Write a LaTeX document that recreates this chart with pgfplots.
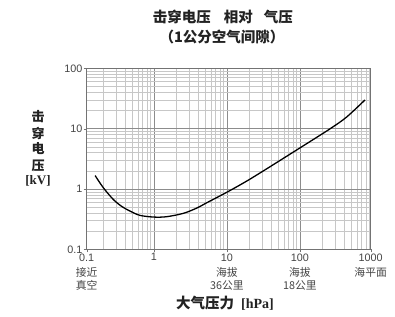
\documentclass[border=0pt]{standalone}
\usepackage{pgfplots}
\pgfplotsset{compat=1.18}
\usepackage{fontspec}
\setmainfont{Liberation Sans}
\newfontfamily\cjk{Noto Sans CJK SC}
\newfontfamily\serifb{Liberation Serif}
\definecolor{lbl}{HTML}{444444}
\definecolor{ttl}{HTML}{222222}
\begin{document}
\begin{tikzpicture}[x=1bp,y=1bp]
\useasboundingbox (0,0) rectangle (395,317);
\begin{axis}[
  at={(86.7bp,67.7bp)}, anchor=south west,
  scale only axis, width=284bp, height=181bp,
  xmode=log, ymode=log,
  xmin=0.1197, xmax=930, ymin=0.1, ymax=100,
  xtick={0.1197,1,10,100,930},
  xticklabels={{0.1\\[3bp]{\cjk 接近}\\{\cjk 真空}},{1},{10\\[3bp]{\cjk 海拔}\\{\cjk 36公里}},{100\\[3bp]{\cjk 海拔}\\{\cjk 18公里}},{1000\\[3bp]{\cjk 海平面}}},
  minor xtick={0.2,0.3,0.4,0.5,0.6,0.7,0.8,0.9,2,3,4,5,6,7,8,9,20,30,40,50,60,70,80,90,200,300,400,500,600,700,800,900},
  ytick={0.1,1,10,100},
  yticklabels={0.1,1,10,100},
  minor ytick={0.2,0.3,0.4,0.5,0.6,0.7,0.8,0.9,2,3,4,5,6,7,8,9,20,30,40,50,60,70,80,90},
  grid=both,
  major grid style={draw=black!45, line width=0.5pt},
  minor grid style={draw=black!22, line width=0.4pt},
  axis line style={draw=black!55, line width=0.6pt},
  tick style={draw=black!55},
  major tick length=3bp, minor tick length=0bp,
  tick align=outside,
  xticklabel style={align=center, anchor=north, font=\fontsize{10.8bp}{12.5bp}\selectfont, text=lbl, inner sep=1bp},
  yticklabel style={anchor=east, font=\fontsize{10.8bp}{12.5bp}\selectfont, text=lbl, inner sep=1bp},
  xtick pos=bottom, ytick pos=left,
]
\addplot[black, line width=1.3pt, smooth, tension=0.5] coordinates {
(0.156,1.67) (0.202,1.05) (0.277,0.67) (0.361,0.514) (0.469,0.43) (0.643,0.365) (1.0,0.342) (1.49,0.347) (2.52,0.394) (3.85,0.482) (5.27,0.59) (10,0.885) (18.6,1.35) (35,2.16) (100,4.8) (257,9.9) (436,15.6) (779,30)
};
\end{axis}
\node[text=ttl, font=\cjk\bfseries\fontsize{14.5bp}{16bp}\selectfont] at (223,300) {击穿电压\hspace{13bp}相对\hspace{11bp}气压};
\node[text=ttl, font=\cjk\bfseries\fontsize{14.5bp}{16bp}\selectfont] at (222,280) {（1公分空气间隙）};
\node[text=ttl, font=\cjk\bfseries\fontsize{13bp}{15bp}\selectfont] at (38,200.3) {击};
\node[text=ttl, font=\cjk\bfseries\fontsize{13bp}{15bp}\selectfont] at (38,184) {穿};
\node[text=ttl, font=\cjk\bfseries\fontsize{13bp}{15bp}\selectfont] at (38,168) {电};
\node[text=ttl, font=\cjk\bfseries\fontsize{13bp}{15bp}\selectfont] at (38,151) {压};
\node[text=ttl, font=\serifb\bfseries\fontsize{13bp}{15bp}\selectfont] at (38,136) {[kV]};
\node[text=ttl, anchor=west, inner sep=0pt] at (176,14) {{\cjk\bfseries\fontsize{14.5bp}{16bp}\selectfont 大气压力}\hspace{7bp}{\serifb\bfseries\fontsize{14bp}{16bp}\selectfont [hPa]}};
\end{tikzpicture}
\end{document}
